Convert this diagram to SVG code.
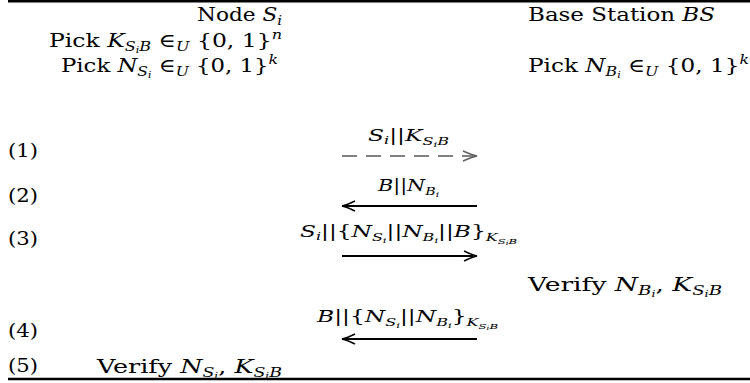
<svg xmlns="http://www.w3.org/2000/svg" width="750" height="383" viewBox="0 0 750 383">
<style>
.t{font-family:"DejaVu Serif","Liberation Serif",serif;font-size:19px;fill:#000}
.l{font-family:"DejaVu Serif","Liberation Serif",serif;font-size:16px;fill:#000}
.i{font-style:italic}
.s{font-size:13px}
.ls{font-size:11px}
.ss{font-size:9px}
.lss{font-size:8px}
.rule{stroke:#000;stroke-width:2.6}
.solid{stroke:#000;stroke-width:2.2;fill:none}
.dash{stroke:#808080;stroke-width:2;fill:none;stroke-dasharray:15 9}
</style>
<defs>
<marker id="hk" markerUnits="userSpaceOnUse" markerWidth="20" markerHeight="14" refX="14" refY="7" orient="auto" overflow="visible">
<path d="M1,2 Q9,6 14,7 Q9,8 1,12" fill="none" stroke="#000" stroke-width="1.4"/>
</marker>
<marker id="hg" markerUnits="userSpaceOnUse" markerWidth="20" markerHeight="14" refX="14" refY="7" orient="auto" overflow="visible">
<path d="M0,2 Q9,6 14,7 Q9,8 0,12" fill="none" stroke="#606060" stroke-width="1.5"/>
</marker>
</defs>
<line class="rule" x1="8" y1="1.2" x2="750" y2="1.2"/>
<line class="rule" x1="8" y1="379" x2="750" y2="379"/>
<g id="node-si">
<text class="t" x="197" y="21" textLength="85" lengthAdjust="spacingAndGlyphs">Node <tspan class="i">S</tspan><tspan class="i s" dy="4">i</tspan></text>
<text class="t" x="49" y="47" textLength="233" lengthAdjust="spacingAndGlyphs">Pick <tspan class="i">K</tspan><tspan class="i s" dy="4">S</tspan><tspan class="i ss" dy="2">i</tspan><tspan class="i s" dy="-2">B</tspan><tspan dy="-4"> ∈</tspan><tspan class="i s" dy="4">U</tspan><tspan dy="-4"> {0, 1}</tspan><tspan class="i s" dy="-8">n</tspan></text>
<text class="t" x="61" y="72" textLength="217" lengthAdjust="spacingAndGlyphs">Pick <tspan class="i">N</tspan><tspan class="i s" dy="4">S</tspan><tspan class="i ss" dy="2">i</tspan><tspan dy="-6"> ∈</tspan><tspan class="i s" dy="4">U</tspan><tspan dy="-4"> {0, 1}</tspan><tspan class="i s" dy="-8">k</tspan></text>
<text class="t" x="97" y="373" textLength="185" lengthAdjust="spacingAndGlyphs">Verify <tspan class="i">N</tspan><tspan class="i s" dy="4">S</tspan><tspan class="i ss" dy="2">i</tspan><tspan dy="-6">, </tspan><tspan class="i">K</tspan><tspan class="i s" dy="4">S</tspan><tspan class="i ss" dy="2">i</tspan><tspan class="i s" dy="-2">B</tspan></text>
</g>
<g id="base-station">
<text class="t" x="528" y="21" textLength="187" lengthAdjust="spacingAndGlyphs">Base Station <tspan class="i">BS</tspan></text>
<text class="t" x="528" y="72" textLength="221" lengthAdjust="spacingAndGlyphs">Pick <tspan class="i">N</tspan><tspan class="i s" dy="4">B</tspan><tspan class="i ss" dy="2">i</tspan><tspan dy="-6"> ∈</tspan><tspan class="i s" dy="4">U</tspan><tspan dy="-4"> {0, 1}</tspan><tspan class="i s" dy="-8">k</tspan></text>
<text class="t" x="528" y="291" textLength="194" lengthAdjust="spacingAndGlyphs">Verify <tspan class="i">N</tspan><tspan class="i s" dy="4">B</tspan><tspan class="i ss" dy="2">i</tspan><tspan dy="-6">, </tspan><tspan class="i">K</tspan><tspan class="i s" dy="4">S</tspan><tspan class="i ss" dy="2">i</tspan><tspan class="i s" dy="-2">B</tspan></text>
</g>
<g id="steps">
<text class="t" x="8" y="157" textLength="30" lengthAdjust="spacingAndGlyphs">(1)</text>
<text class="t" x="8" y="202" textLength="30" lengthAdjust="spacingAndGlyphs">(2)</text>
<text class="t" x="8" y="245" textLength="30" lengthAdjust="spacingAndGlyphs">(3)</text>
<text class="t" x="8" y="337" textLength="30" lengthAdjust="spacingAndGlyphs">(4)</text>
<text class="t" x="8" y="372" textLength="30" lengthAdjust="spacingAndGlyphs">(5)</text>
</g>
<g id="connectors">
<line class="dash" x1="342" y1="156" x2="477" y2="156" marker-end="url(#hg)"/>
<line class="solid" x1="477" y1="206" x2="342" y2="206" marker-end="url(#hk)"/>
<line class="solid" x1="342" y1="256" x2="477" y2="256" marker-end="url(#hk)"/>
<line class="solid" x1="477" y1="339" x2="342" y2="339" marker-end="url(#hk)"/>
<text class="l" x="368" y="141" textLength="81" lengthAdjust="spacingAndGlyphs"><tspan class="i">S</tspan><tspan class="i ls" dy="3">i</tspan><tspan dy="-3">||</tspan><tspan class="i">K</tspan><tspan class="i ls" dy="4">S</tspan><tspan class="i lss" dy="2">i</tspan><tspan class="i ls" dy="-2">B</tspan></text>
<text class="l" x="378" y="191" textLength="61" lengthAdjust="spacingAndGlyphs"><tspan class="i">B</tspan>||<tspan class="i">N</tspan><tspan class="i ls" dy="4">B</tspan><tspan class="i lss" dy="2">i</tspan></text>
<text class="l" x="300" y="237" textLength="217" lengthAdjust="spacingAndGlyphs"><tspan class="i">S</tspan><tspan class="i ls" dy="3">i</tspan><tspan dy="-3">||{</tspan><tspan class="i">N</tspan><tspan class="i ls" dy="4">S</tspan><tspan class="i lss" dy="2">i</tspan><tspan dy="-6">||</tspan><tspan class="i">N</tspan><tspan class="i ls" dy="4">B</tspan><tspan class="i lss" dy="2">i</tspan><tspan dy="-6">||</tspan><tspan class="i">B</tspan>}<tspan class="i ls" dy="4">K</tspan><tspan class="i lss" dy="3">S</tspan><tspan class="i" style="font-size:6px" dy="1">i</tspan><tspan class="i lss" dy="-1">B</tspan></text>
<text class="l" x="317" y="322" textLength="181" lengthAdjust="spacingAndGlyphs"><tspan class="i">B</tspan>||{<tspan class="i">N</tspan><tspan class="i ls" dy="4">S</tspan><tspan class="i lss" dy="2">i</tspan><tspan dy="-6">||</tspan><tspan class="i">N</tspan><tspan class="i ls" dy="4">B</tspan><tspan class="i lss" dy="2">i</tspan><tspan dy="-6">}</tspan><tspan class="i ls" dy="4">K</tspan><tspan class="i lss" dy="3">S</tspan><tspan class="i" style="font-size:6px" dy="1">i</tspan><tspan class="i lss" dy="-1">B</tspan></text>
</g>
</svg>
